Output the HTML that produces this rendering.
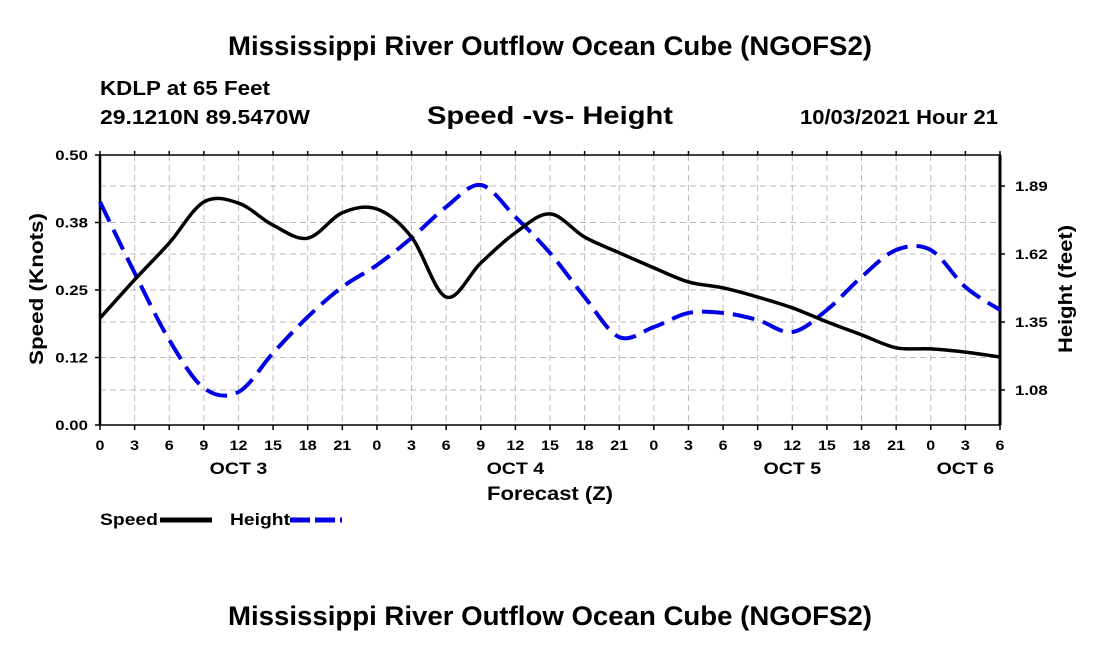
<!DOCTYPE html>
<html><head><meta charset="utf-8"><style>
html,body{margin:0;padding:0;background:#fff;width:1100px;height:650px;overflow:hidden}
svg text{font-family:"Liberation Sans",sans-serif;font-weight:bold;fill:#000}
</style></head><body>
<svg id="c" width="1100" height="650" xmlns="http://www.w3.org/2000/svg">
<text x="550" y="55" text-anchor="middle" font-size="27" textLength="644" lengthAdjust="spacingAndGlyphs">Mississippi River Outflow Ocean Cube (NGOFS2)</text>
<text x="100" y="95" font-size="20" textLength="170" lengthAdjust="spacingAndGlyphs">KDLP at 65 Feet</text>
<text x="100" y="124" font-size="20" textLength="210" lengthAdjust="spacingAndGlyphs">29.1210N  89.5470W</text>
<text x="550" y="124" text-anchor="middle" font-size="25" textLength="246" lengthAdjust="spacingAndGlyphs">Speed -vs- Height</text>
<text x="998" y="124" text-anchor="end" font-size="20" textLength="198" lengthAdjust="spacingAndGlyphs">10/03/2021 Hour 21</text>
<g id="grid"></g>
<g id="axes"></g>
<g id="series"></g>
<text x="550" y="500" text-anchor="middle" font-size="19" textLength="126" lengthAdjust="spacingAndGlyphs">Forecast (Z)</text>
<text transform="translate(43,289) rotate(-90)" text-anchor="middle" font-size="19" textLength="152" lengthAdjust="spacingAndGlyphs">Speed (Knots)</text>
<text transform="translate(1072,289) rotate(-90)" text-anchor="middle" font-size="19" textLength="128" lengthAdjust="spacingAndGlyphs">Height (feet)</text>
<g>
<text x="100" y="525" font-size="17" textLength="58" lengthAdjust="spacingAndGlyphs">Speed</text>
<line x1="160" y1="520" x2="212" y2="520" stroke="#000" stroke-width="5"/>
<text x="230" y="525" font-size="17" textLength="60" lengthAdjust="spacingAndGlyphs">Height</text>
<line x1="290" y1="520" x2="342" y2="520" stroke="#0000e6" stroke-width="5" stroke-dasharray="20,5"/>
</g>
<text x="550" y="625" text-anchor="middle" font-size="27" textLength="644" lengthAdjust="spacingAndGlyphs">Mississippi River Outflow Ocean Cube (NGOFS2)</text>
</svg>
<script>
const xLabels=["0","3","6","9","12","15","18","21","0","3","6","9","12","15","18","21","0","3","6","9","12","15","18","21","0","3","6"];
const dayLabels=["OCT 3","OCT 4","OCT 5","OCT 6"];
const dayIdx=[4,12,20,25];
const speedTicks=[0,0.125,0.25,0.375,0.5];
const speedTickLabels=["0.00","0.12","0.25","0.38","0.50"];
const heightTicks=[1.08,1.35,1.62,1.89];
const speedValues=[.198,.269,.337,.413,.411,.370,.346,.393,.400,.348,.237,.300,.356,.391,.348,.319,.291,.265,.254,.237,.217,.191,.167,.143,.141,.135,.126];
const heightValues=[1.827,1.545,1.279,1.088,1.072,1.227,1.370,1.489,1.576,1.684,1.807,1.894,1.767,1.624,1.449,1.290,1.330,1.386,1.386,1.358,1.310,1.398,1.529,1.636,1.636,1.489,1.398];
const L=100,R=1000,T=155,B=425;
const NS="http://www.w3.org/2000/svg";
const xS=i=>L+i*(R-L)/(xLabels.length-1);
const yS=v=>B-v/0.5*(B-T);
const yH=h=>390-(h-1.08)/0.27*68;
function mk(tag,attrs,parent){const e=document.createElementNS(NS,tag);for(const k in attrs)e.setAttribute(k,attrs[k]);parent.appendChild(e);return e;}
function widen(t,k){const w=t.getComputedTextLength();t.setAttribute('textLength',w*k);t.setAttribute('lengthAdjust','spacingAndGlyphs');}
const grid=document.getElementById('grid'),axes=document.getElementById('axes'),series=document.getElementById('series');
for(let i=1;i<xLabels.length-1;i++){const g=mk('line',{x1:xS(i),x2:xS(i),y1:T,y2:B,stroke:'#bbb','stroke-width':1,'stroke-dasharray':'6,4'},grid);

}
speedTicks.slice(1,-1).forEach(v=>{const g=mk('line',{x1:L,x2:R,y1:yS(v),y2:yS(v),stroke:'#bbb','stroke-width':1,'stroke-dasharray':'6,4'},grid);

});
heightTicks.forEach(v=>{const g=mk('line',{x1:L,x2:R,y1:yH(v),y2:yH(v),stroke:'#bbb','stroke-width':1,'stroke-dasharray':'6,4'},grid);

});
const fr=mk('rect',{x:L,y:T,width:R-L,height:B-T,fill:'none',stroke:'#000','stroke-width':1.5},axes);


const la=mk('line',{x1:L,x2:L,y1:T,y2:B,stroke:'#000','stroke-width':2.5},axes);


const ra=mk('line',{x1:R,x2:R,y1:T,y2:B,stroke:'#000','stroke-width':3},axes);


xLabels.forEach((s,i)=>{mk('line',{x1:xS(i),x2:xS(i),y1:B,y2:B+5,stroke:'#000','stroke-width':1.5},axes);mk('line',{x1:xS(i),x2:xS(i),y1:T,y2:T-4,stroke:'#000','stroke-width':1.5},axes);
const t=mk('text',{x:xS(i),y:450,'text-anchor':'middle','font-size':14},axes);t.textContent=s;widen(t,1.15);

});
dayLabels.forEach((s,k)=>{const t=mk('text',{x:xS(dayIdx[k]),y:474,'text-anchor':'middle','font-size':17},axes);t.textContent=s;widen(t,1.15);

});
speedTicks.forEach((v,k)=>{mk('line',{x1:L-5,x2:L,y1:yS(v),y2:yS(v),stroke:'#000','stroke-width':1.5},axes);
const t=mk('text',{x:L-12,y:yS(v)+5,'text-anchor':'end','font-size':14},axes);t.textContent=speedTickLabels[k];widen(t,1.2);

});
heightTicks.forEach(v=>{mk('line',{x1:R,x2:R+5,y1:yH(v),y2:yH(v),stroke:'#000','stroke-width':1.5},axes);
const t=mk('text',{x:R+15,y:yH(v)+5,'text-anchor':'start','font-size':14},axes);t.textContent=v.toFixed(2);widen(t,1.2);

});
function spline(pts){let d='M'+pts[0][0]+','+pts[0][1];for(let i=0;i<pts.length-1;i++){const p0=pts[Math.max(0,i-1)],p1=pts[i],p2=pts[i+1],p3=pts[Math.min(pts.length-1,i+2)];
d+=' C'+(p1[0]+(p2[0]-p0[0])/6)+','+(p1[1]+(p2[1]-p0[1])/6)+' '+(p2[0]-(p3[0]-p1[0])/6)+','+(p2[1]-(p3[1]-p1[1])/6)+' '+p2[0]+','+p2[1];}return d;}
const hp=mk('path',{d:spline(heightValues.map((v,i)=>[xS(i),yH(v)])),fill:'none',stroke:'#0000e6','stroke-width':4,'stroke-dasharray':'22,9'},series);


const sp=mk('path',{d:spline(speedValues.map((v,i)=>[xS(i),yS(v)])),fill:'none',stroke:'#000','stroke-width':3.5},series);


</script>
</body></html>
